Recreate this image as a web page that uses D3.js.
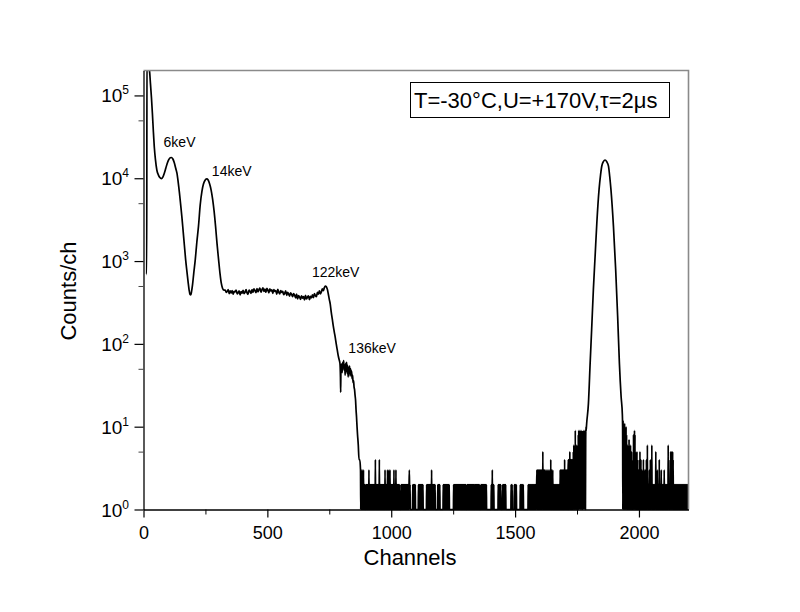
<!DOCTYPE html>
<html><head><meta charset="utf-8">
<script src="https://cdn.jsdelivr.net/npm/d3@7"></script>
<style>
body{margin:0;background:#fff;}
svg text{font-family:Arial,"Liberation Sans",sans-serif;fill:#000;}
</style></head><body>
<svg id="c" width="800" height="612"></svg>
<script>
// ---------- DATA ----------
// Smooth / low-energy part of the spectrum: channel and counts
const lowChannels = [12,13,14,17,21,24,28,32,36,40,44,48,54,60,66,72,78,84,90,96,102,108,113,118,124,130,135,140,145,150,155,160,165,170,175,180,184,188,191,194,198,203,209,215,222,229,236,242,248,255,261,267,273,279,285,291,297,303,309,314,319,325,
330,334,338,342,346,350,354,358,362,366,370,374,378,382,386,390,394,398,402,406,410,414,418,422,426,430,434,438,442,446,450,454,458,462,466,470,474,478,482,486,490,494,498,502,506,510,514,518,522,526,530,534,538,542,546,550,554,558,562,566,570,574,578,582,586,590,594,598,602,606,610,614,618,622,626,630,634,638,642,646,650,654,658,662,666,670,674,678,682,686,690,694,698,702,706,710,714,718,722,726,730,734,738,742,746,750,
754,758,762,766,770,774,778,782,786,790,793,795,796,797,800,802,804,806,808,810,812,814,816,818,820,822,824,826,828,830,832,834,836,838,840,842,844,846,848,850,852,854,856,858,860,862,864,867,870,873,876];
const lowCounts = [690,690,400000,300000,210000,200000,140000,95000,60000,36000,23000,17000,12500,11000,10200,9900,10300,11500,13200,15200,16800,17700,17800,17200,15500,13200,11500,9000,6700,4800,3400,2300,1550,1050,760,560,450,395,390,430,520,720,1040,1650,2640,4800,7000,8500,9400,9800,9500,8500,7200,5600,4000,2600,1600,1050,700,540,470,445,
445,418,430,452,405,436,412,441,
398,432,425,446,402,415,438,391,428,410,
442,404,420,451,412,396,446,430,408,452,
418,461,440,415,466,425,452,470,421,448,
474,430,458,420,468,446,414,462,435,450,
408,452,430,441,398,455,420,402,440,418,
430,392,410,436,386,420,400,378,414,395,
372,405,388,360,398,350,382,368,345,380,
356,372,340,385,348,366,380,342,374,360,
390,362,405,382,372,418,398,436,402,425,
462,438,478,500,490,458,400,345,
300,240,200,165,140,120,100,85,72,64,58,40,26,50,57,45,60,52,63,48,56,42,58,47,60,44,55,40,52,46,54,41,50,43,47,38,42,34,36,30,28,24,21,16,13,10,8,6,4,4,3];

// 1.3 MeV peak: channel and counts
const peakChannels = [1789,1796,1803,1809,1816,1823,1830,1839,1845,1850,1857,1863,1870,1877,1882,1887,1897,1906,1914,1921,1928,1933];
const peakCounts   = [11,19,59,148,452,1143,2900,7340,11000,14060,16000,16600,15800,14000,10500,7300,2640,789,215,59,23,14];

// Sparse noise: start channel and one base-36 digit of counts per channel (other channels = 1)
const noiseStarts = [878,898,975,1040,1087,1110,1143,1188,1210,1252,1307,1336,1362,1404,1432,1450,1484,1497,1521,1553,1588,1622,1656,1682,1715,1735,1755,1771,1787,
1934,1950,1972,1992,2012,2038,2060,2112,2144];
const noiseRuns = [
"313121312131212121",
"2121212121213121212121212121212121212141212121212121214121212121212121212121",
"312121212131212131213121212121212121312121213121212121212121",
"21212121212121212121212121212121232121",
"21212121212",
"2121212121212121212",
"212121212121212121213121212121212121",
"2121212121",
"21212121212121212121212121",
"2121212121212121212121212121212121212121212121212121",
"212121212121212121212121212",
"2121212121212121212121",
"212121212121212121212121",
"212131212121",
"21212121212",
"2121212121212",
"212121",
"2121212121",
"21212121212121",
"212121212121212121212121212121212121",
"3131313131313131313131315131313131",
"2131213121312131213121412131213121",
"21212121212121212121212121",
"313131313131313131413131313131313",
"41414151414141414141",
"51615161916151615161",
"8191829181928191",
"718192719281917a",
"9a",
"a1c19181b17191a1",
"8141613151714121613151",
"41213181419181513141",
"51413131214151314131",
"31213141213121312141216121",
"2121312141212161212121",
"2121212151212131212121412121213121212121213121212121",
"21212161212121415141514151412121",
"212121212121212121212121212121212121212121212121212121212"];
const lastChannel = 2200;

// Axes
const xDomain = [0, 2200];
const yDomain = [1, 200000];
const xTicks = [0, 500, 1000, 1500, 2000];
const xMinorTicks = [250, 750, 1250, 1750];
const yTicks = [1, 10, 100, 1000, 10000, 100000];
const yExponents = ["0","1","2","3","4","5"];
const yMinorTicks = [5, 50, 500, 5000, 50000];

// Annotations
const peakNames = ["6keV", "14keV", "122keV", "136keV"];
const peakNameCh = [81, 276, 680, 827];
const peakNameCounts = [24000, 10700, 650, 77];
const legendText = "T=-30\u00B0C,U=+170V,\u03C4=2\u03BCs";

// ---------- BUILD SERIES ----------
const noiseMap = new Map();
noiseStarts.forEach((s, i) => {
  [...noiseRuns[i]].forEach((ch, j) => noiseMap.set(s + j, parseInt(ch, 36)));
});
const pts = lowChannels.map((c, i) => [c, lowCounts[i]]);
for (let c = lowChannels[lowChannels.length - 1] + 1; c < peakChannels[0]; c++) pts.push([c, noiseMap.get(c) ?? 1]);
peakChannels.forEach((c, i) => pts.push([c, peakCounts[i]]));
for (let c = peakChannels[peakChannels.length - 1] + 1; c <= lastChannel; c++) pts.push([c, noiseMap.get(c) ?? 1]);

// ---------- DRAW ----------
const L = 143.5, R = 688.5, T = 70.5, B = 509.5;
const svg = d3.select("#c");
svg.append("rect").attr("width", 800).attr("height", 612).attr("fill", "#fff");
const x = d3.scaleLinear().domain(xDomain).range([L, R]);
const y = d3.scaleLog().domain(yDomain).range([B, T]);

svg.append("defs").append("clipPath").attr("id", "clip")
  .append("rect").attr("x", L).attr("y", T).attr("width", R - L).attr("height", B - T + 1);

// spectrum line
svg.append("path")
  .datum(pts)
  .attr("clip-path", "url(#clip)")
  .attr("fill", "none")
  .attr("stroke", "#000")
  .attr("stroke-width", 1.7)
  .attr("stroke-linejoin", "round")
  .attr("d", d3.line().x(d => x(d[0])).y(d => y(Math.max(d[1], 1))).curve(d3.curveMonotoneX));

// frame: top/right grey
svg.append("path").attr("d", `M${L},${T}H${R}V${B}`).attr("fill", "none").attr("stroke", "#8a8a8a").attr("stroke-width", 1.6);

// x axis
const gx = svg.append("g").attr("transform", `translate(0,${B})`)
  .call(d3.axisBottom(x).tickValues(xTicks).tickSize(8).tickSizeOuter(0).tickFormat(d3.format("d")));
gx.select(".domain").attr("stroke", "#000").attr("stroke-width", 1.3);
gx.selectAll(".tick line").attr("stroke-width", 1.2);
gx.selectAll(".tick text").attr("y", 29.5).attr("dy", 0).attr("font-size", 18).attr("font-family", "Arial, 'Liberation Sans', sans-serif");
const gxm = svg.append("g").attr("transform", `translate(0,${B})`)
  .call(d3.axisBottom(x).tickValues(xMinorTicks).tickSize(5).tickSizeOuter(0).tickFormat(""));
gxm.select(".domain").remove();
gxm.selectAll(".tick line").attr("stroke-width", 1);

// y axis
const gy = svg.append("g").attr("transform", `translate(${L},0)`)
  .call(d3.axisLeft(y).tickValues(yTicks).tickSize(9).tickSizeOuter(0).tickFormat(""));
gy.select(".domain").attr("stroke", "#000").attr("stroke-width", 1.3);
gy.selectAll(".tick line").attr("stroke-width", 1.2);
const gym = svg.append("g").attr("transform", `translate(${L},0)`)
  .call(d3.axisLeft(y).tickValues(yMinorTicks).tickSize(5).tickSizeOuter(0).tickFormat(""));
gym.select(".domain").remove();
gym.selectAll(".tick line").attr("stroke-width", 1).attr("stroke", "#444");

yTicks.forEach((v, i) => {
  const t = svg.append("text").attr("x", 129).attr("y", y(v) + 7).attr("text-anchor", "end").attr("font-size", 19);
  t.append("tspan").text("10");
  t.append("tspan").attr("font-size", 12).attr("dy", -8).text(yExponents[i]);
});

// axis titles
svg.append("text").attr("x", 410).attr("y", 565).attr("text-anchor", "middle").attr("font-size", 22).text("Channels");
svg.append("text").attr("transform", "translate(76,291) rotate(-90)").attr("text-anchor", "middle").attr("font-size", 22).text("Counts/ch");

// peak annotations
peakNames.forEach((n, i) => {
  svg.append("text").attr("x", x(peakNameCh[i])).attr("y", y(peakNameCounts[i])).attr("font-size", 14).text(n);
});

// legend box
svg.append("rect").attr("x", 410.5).attr("y", 82.5).attr("width", 259).attr("height", 35)
  .attr("fill", "#fff").attr("stroke", "#000").attr("stroke-width", 1);
svg.append("text").attr("x", 414).attr("y", 108).attr("font-size", 22).text(legendText);
</script>
</body></html>
